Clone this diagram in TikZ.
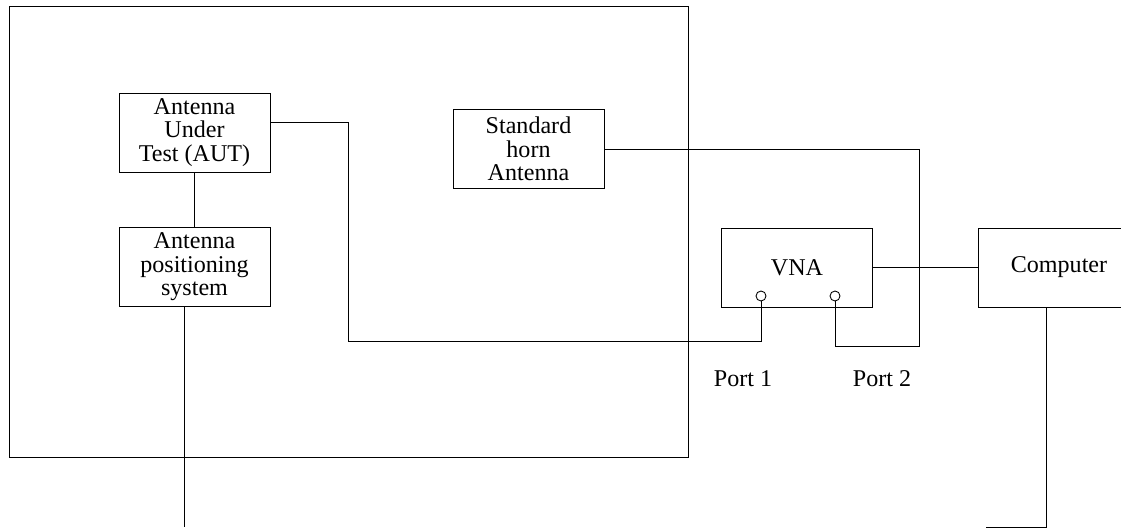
\documentclass[tikz,border=0pt]{standalone}
\usepackage{fontspec}
\setmainfont{Liberation Serif}
\usetikzlibrary{positioning}

\begin{document}
\begin{tikzpicture}[x=0.02cm, y=-0.02cm, line width=0.5pt,
  font=\fontsize{13.7}{13.4}\selectfont,
  blk/.style={draw, minimum width=3.02cm, minimum height=1.58cm, align=center, inner sep=0pt},
  port/.style={draw, circle, inner sep=0pt, minimum size=0.2cm}]
  \useasboundingbox (0,0) rectangle (1121,527);
  % camara de medida
  \draw (9,6) rectangle (688,457);
  % bloques
  \node[blk] (aut) at (194.5,132.5) {Antenna\\Under\\Test (AUT)};
  \node[blk] (pos) at (194.5,267) {Antenna\\positioning\\system};
  \node[blk] (horn) at (528.5,149) {Standard\\horn\\Antenna};
  \node[blk] (vna) at (796.5,267.5) {};
  \node at (797,268) {VNA};
  \node[blk, minimum width=3.24cm] (comp) at (1059,267.5) {Computer};
  % puertos del VNA
  \node[port] (p1) at (761,296) {};
  \node[port] (p2) at (835,296) {};
  \node (l1) at (743,379) {Port 1};
  \node (l2) at (882,379) {Port 2};
  % cables
  \draw (aut) -- (pos);
  \draw ([yshift=0.2cm]aut.east) -| (348,341) -| (p1.south);
  \draw (horn.east) -| (919,346) -| (p2.south);
  \draw (vna) -- (comp);
  \coordinate (b1) at (184,527);
  \coordinate (b2) at (986,527);
  \draw (pos.south -| b1) -- (b1);
  \draw (comp.south -| 1046,0) -- (1046,527) -- (b2);
\end{tikzpicture}
\end{document}
